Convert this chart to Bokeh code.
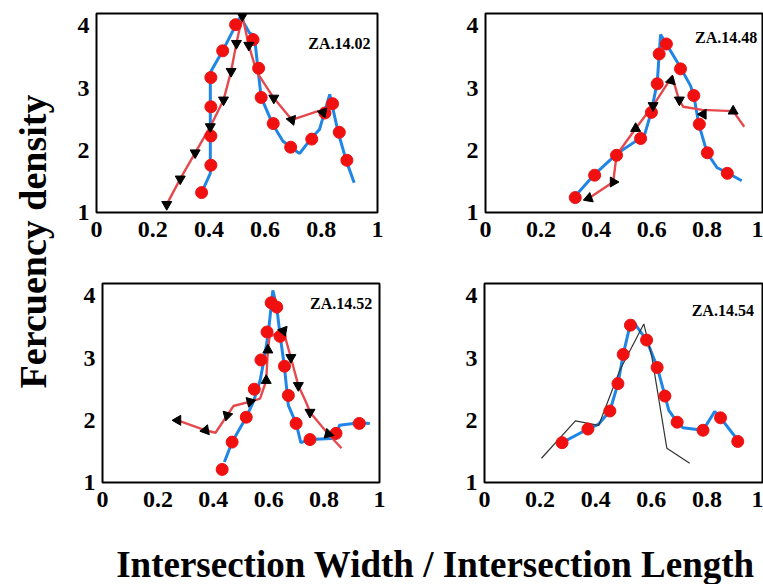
from bokeh.plotting import figure
from bokeh.models import Range1d, FixedTicker, Label
from bokeh.layouts import row, column
from bokeh.embed import file_html
from bokeh.resources import INLINE

# ---------------- data ----------------
xticks = [0, 0.2, 0.4, 0.6, 0.8, 1]
xtick_labels = ["0", "0.2", "0.4", "0.6", "0.8", "1"]
yticks = [1, 2, 3, 4]
panel_names = ["ZA.14.02", "ZA.14.48", "ZA.14.52", "ZA.14.54"]

# Panel ZA.14.02
p1_blue_x = [0.381, 0.405, 0.405, 0.449, 0.493, 0.512, 0.544, 0.562, 0.574, 0.586, 0.627, 0.663, 0.690, 0.723, 0.764, 0.794, 0.830, 0.860, 0.889, 0.917]
p1_blue_y = [1.39, 1.63, 3.25, 3.60, 3.99, 4.15, 3.89, 3.84, 3.33, 2.85, 2.42, 2.15, 2.05, 1.95, 2.19, 2.34, 2.90, 2.29, 1.83, 1.48]
p1_dot_x = [0.374, 0.407, 0.407, 0.407, 0.407, 0.449, 0.495, 0.557, 0.577, 0.586, 0.629, 0.691, 0.766, 0.813, 0.840, 0.864, 0.891]
p1_dot_y = [1.32, 1.76, 2.23, 2.70, 3.17, 3.60, 4.02, 3.78, 3.32, 2.85, 2.43, 2.05, 2.18, 2.60, 2.75, 2.29, 1.84]
p1_red_x = [0.250, 0.298, 0.351, 0.405, 0.452, 0.479, 0.498, 0.519, 0.542, 0.570, 0.631, 0.695, 0.788, 0.806]
p1_red_y = [1.13, 1.54, 1.96, 2.38, 2.81, 3.27, 3.72, 4.16, 3.69, 3.26, 2.84, 2.49, 2.63, 2.61]
p1_tri_x = [0.250, 0.298, 0.351, 0.405, 0.452, 0.479, 0.498, 0.519, 0.542, 0.631, 0.695, 0.806]
p1_tri_y = [1.13, 1.54, 1.96, 2.38, 2.81, 3.27, 3.72, 4.16, 3.69, 2.84, 2.49, 2.61]
p1_tri_dir = [180, 180, 180, 180, 180, 180, 180, 180, 180, 180, 200, 200]

# Panel ZA.14.48
p2_blue_x = [0.333, 0.391, 0.473, 0.560, 0.575, 0.598, 0.620, 0.627, 0.632, 0.653, 0.704, 0.740, 0.752, 0.770, 0.800, 0.836, 0.873, 0.925]
p2_blue_y = [1.31, 1.60, 1.94, 2.20, 2.26, 2.61, 3.09, 3.55, 3.86, 3.71, 3.33, 3.04, 2.88, 2.42, 1.96, 1.72, 1.64, 1.51]
p2_dot_x = [0.324, 0.394, 0.473, 0.560, 0.599, 0.620, 0.627, 0.653, 0.704, 0.752, 0.772, 0.801, 0.873]
p2_dot_y = [1.24, 1.60, 1.92, 2.19, 2.61, 3.07, 3.55, 3.71, 3.31, 2.88, 2.42, 1.96, 1.63]
p2_red_x = [0.373, 0.461, 0.473, 0.542, 0.605, 0.674, 0.698, 0.714, 0.782, 0.894, 0.934]
p2_red_y = [1.23, 1.49, 1.92, 2.35, 2.72, 3.19, 2.82, 2.70, 2.65, 2.63, 2.38]
p2_tri_x = [0.373, 0.461, 0.542, 0.605, 0.670, 0.700, 0.786, 0.894]
p2_tri_y = [1.23, 1.49, 2.35, 2.72, 3.12, 2.81, 2.58, 2.63]
p2_tri_dir = [110, -90, 0, 180, -15, 180, 90, 0]

# Panel ZA.14.52
p3_blue_x = [0.440, 0.468, 0.519, 0.545, 0.569, 0.585, 0.599, 0.615, 0.629, 0.641, 0.656, 0.671, 0.699, 0.716, 0.749, 0.845, 0.855, 0.929, 0.965]
p3_blue_y = [1.33, 1.65, 2.05, 2.30, 2.64, 3.02, 3.42, 4.09, 3.82, 3.37, 2.89, 2.24, 1.95, 1.64, 1.69, 1.71, 1.92, 1.96, 1.95]
p3_dot_x = [0.432, 0.468, 0.519, 0.548, 0.572, 0.594, 0.609, 0.629, 0.641, 0.657, 0.671, 0.699, 0.749, 0.843, 0.927]
p3_dot_y = [1.21, 1.65, 2.05, 2.50, 2.97, 3.42, 3.89, 3.82, 3.35, 2.87, 2.40, 1.95, 1.69, 1.79, 1.95]
p3_red_x = [0.272, 0.372, 0.408, 0.450, 0.473, 0.533, 0.569, 0.591, 0.597, 0.603, 0.629, 0.653, 0.680, 0.707, 0.737, 0.749, 0.815, 0.863]
p3_red_y = [2.00, 1.84, 1.80, 2.08, 2.23, 2.30, 2.35, 2.64, 3.13, 3.34, 3.40, 3.44, 3.01, 2.56, 2.27, 2.13, 1.78, 1.55]
p3_tri_x = [0.272, 0.372, 0.450, 0.533, 0.591, 0.597, 0.653, 0.680, 0.707, 0.749, 0.815]
p3_tri_y = [2.00, 1.84, 2.08, 2.30, 2.64, 3.13, 3.44, 3.01, 2.56, 2.13, 1.78]
p3_tri_dir = [90, 100, 45, 45, 0, 0, 200, 180, 180, 180, 135]

# Panel ZA.14.54
p4_blue_x = [0.279, 0.372, 0.411, 0.451, 0.480, 0.499, 0.525, 0.531, 0.583, 0.621, 0.647, 0.663, 0.693, 0.714, 0.786, 0.828, 0.849, 0.915]
p4_blue_y = [1.64, 1.86, 1.94, 2.15, 2.59, 3.06, 3.56, 3.61, 3.29, 2.86, 2.43, 2.16, 1.97, 1.88, 1.84, 2.14, 2.04, 1.66]
p4_dot_x = [0.279, 0.372, 0.451, 0.480, 0.499, 0.525, 0.583, 0.621, 0.649, 0.693, 0.786, 0.849, 0.911]
p4_dot_y = [1.64, 1.86, 2.15, 2.59, 3.06, 3.53, 3.29, 2.85, 2.39, 1.97, 1.84, 2.04, 1.66]
p4_black_x = [0.205, 0.327, 0.411, 0.487, 0.573, 0.602, 0.656, 0.738]
p4_black_y = [1.39, 1.99, 1.92, 2.81, 3.55, 3.02, 1.55, 1.31]

# ---------------- style ----------------
BLUE = "#1f86e6"
REDLINE = "#e5484d"
DOT = "#f01010"
FONT = "Liberation Serif"


def make_panel(width, height, bl, br, bt, bb, name, lx, ly):
    p = figure(width=width, height=height, title=None,
               x_range=Range1d(0, 1), y_range=Range1d(1, 4.2),
               output_backend="svg", toolbar_location=None,
               min_border_left=bl, min_border_right=br,
               min_border_top=bt, min_border_bottom=bb)
    p.xgrid.visible = False
    p.ygrid.visible = False
    p.outline_line_color = "black"
    p.outline_line_width = 2
    p.outline_line_alpha = 1
    p.xaxis.ticker = FixedTicker(ticks=xticks)
    p.xaxis.major_label_overrides = {t: l for t, l in zip(xticks, xtick_labels)}
    p.yaxis.ticker = FixedTicker(ticks=yticks)
    for ax in (p.xaxis[0], p.yaxis[0]):
        ax.axis_line_color = None
        ax.major_tick_line_color = None
        ax.minor_tick_line_color = None
        ax.major_tick_out = 0
        ax.major_tick_in = 0
        ax.major_label_text_font = FONT
        ax.major_label_text_font_style = "bold"
        ax.major_label_text_font_size = "24px"
        ax.major_label_text_color = "black"
    p.xaxis.major_label_standoff = 9
    p.yaxis.major_label_standoff = 7
    p.add_layout(Label(x=lx, y=ly, text=name, text_align="right",
                       text_baseline="middle", text_font=FONT,
                       text_font_style="bold", text_font_size="16px",
                       text_color="black"))
    return p


def add_series(p, bx, by, dx, dy, rx=None, ry=None, tx=None, ty=None, td=None, kx=None, ky=None):
    p.line(bx, by, line_color=BLUE, line_width=3)
    if rx is not None:
        p.line(rx, ry, line_color=REDLINE, line_width=2.4)
    if kx is not None:
        p.line(kx, ky, line_color="#333333", line_width=1.2)
    p.scatter(dx, dy, marker="circle", size=12, fill_color=DOT, line_color=DOT)
    if tx is not None:
        p.scatter(tx, ty, marker="triangle", size=10, angle=td, angle_units="deg",
                  fill_color="black", line_color="black")


p1 = make_panel(327, 270, 36, 10, 13, 58, panel_names[0], 0.975, 3.72)
add_series(p1, p1_blue_x, p1_blue_y, p1_dot_x, p1_dot_y, p1_red_x, p1_red_y, p1_tri_x, p1_tri_y, p1_tri_dir)

p2 = make_panel(376, 270, 98, 1, 13, 58, panel_names[1], 0.981, 3.82)
add_series(p2, p2_blue_x, p2_blue_y, p2_dot_x, p2_dot_y, p2_red_x, p2_red_y, p2_tri_x, p2_tri_y, p2_tri_dir)

p3 = make_panel(326, 250, 42, 7, 13, 38, panel_names[2], 0.974, 3.88)
add_series(p3, p3_blue_x, p3_blue_y, p3_dot_x, p3_dot_y, p3_red_x, p3_red_y, p3_tri_x, p3_tri_y, p3_tri_dir)

p4 = make_panel(377, 250, 98, 1, 13, 38, panel_names[3], 0.969, 3.77)
add_series(p4, p4_blue_x, p4_blue_y, p4_dot_x, p4_dot_y, kx=p4_black_x, ky=p4_black_y)


def text_fig(width, height):
    f = figure(width=width, height=height, title=None,
               x_range=Range1d(0, width), y_range=Range1d(0, height),
               output_backend="svg", toolbar_location=None,
               min_border=0, min_border_left=0, min_border_right=0,
               min_border_top=0, min_border_bottom=0)
    f.xaxis.visible = False
    f.yaxis.visible = False
    f.xgrid.visible = False
    f.ygrid.visible = False
    f.outline_line_color = None
    return f


ylab = text_fig(60, 520)
ylab.add_layout(Label(x=32, y=279, text="Fercuency density", angle=90, angle_units="deg",
                      text_align="center", text_baseline="middle", text_font=FONT,
                      text_font_style="bold", text_font_size="38px", text_color="black"))

xlab = text_fig(763, 64)
xlab.add_layout(Label(x=435, y=20, text="Intersection Width / Intersection Length",
                      text_align="center", text_baseline="middle", text_font=FONT,
                      text_font_style="bold", text_font_size="37px", text_color="black"))

grid = column(row(p1, p2, spacing=0), row(p3, p4, spacing=0), spacing=0)
layout = column(row(ylab, grid, spacing=0), xlab, spacing=0)

open("out.html", "w").write(file_html(layout, INLINE))
